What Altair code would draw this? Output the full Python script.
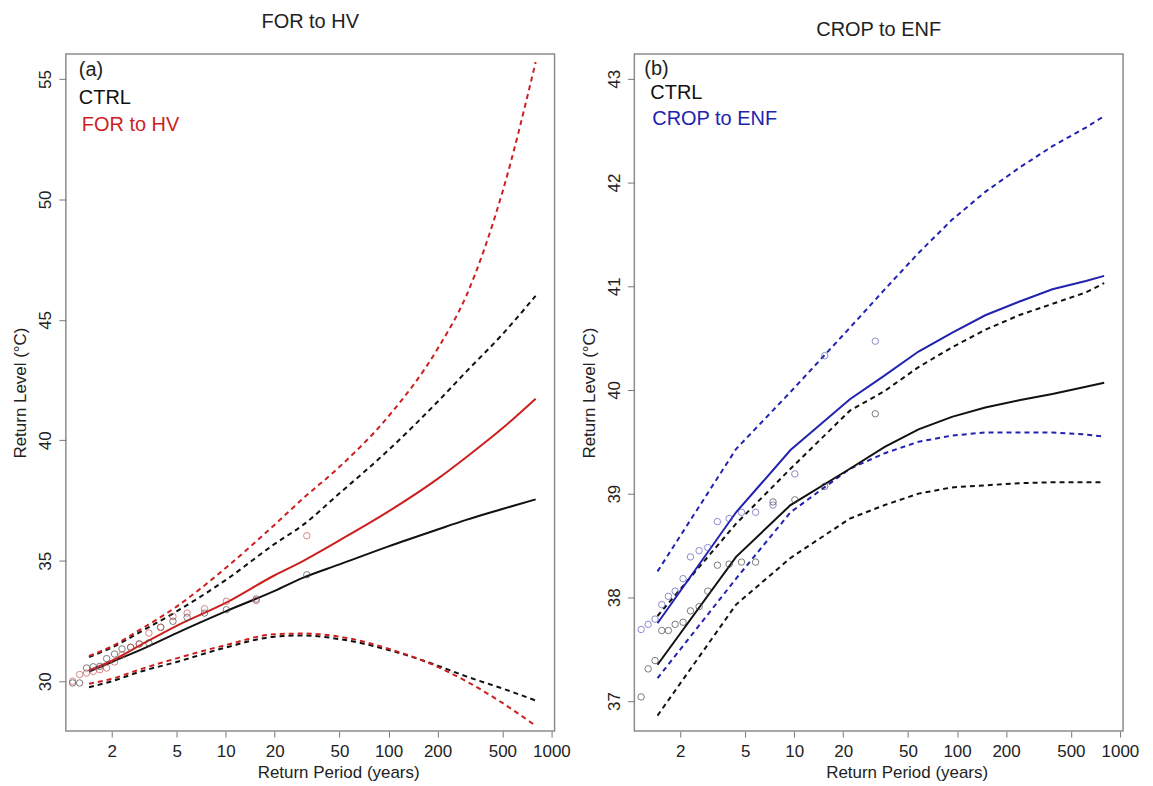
import altair as alt
import pandas as pd

# ---------------- Panel (a): FOR to HV ----------------
T_A = [1.45, 2, 3, 5, 10, 20, 30, 50, 100, 200, 300, 500, 800]
CTRL_A = [30.4, 30.8, 31.3, 32.0, 32.9, 33.75, 34.3, 34.85, 35.6, 36.3, 36.7, 37.15, 37.55]
CTRL_A_HI = [31.0, 31.4, 32.05, 32.9, 34.2, 35.7, 36.5, 37.8, 39.6, 41.6, 42.85, 44.4, 46.0]
CTRL_A_LO = [29.75, 30.0, 30.4, 30.8, 31.4, 31.85, 31.9, 31.75, 31.3, 30.65, 30.2, 29.7, 29.2]
HV = [30.45, 30.85, 31.5, 32.3, 33.25, 34.4, 35.0, 35.85, 37.05, 38.4, 39.3, 40.5, 41.73]
HV_HI = [31.05, 31.45, 32.15, 33.1, 34.7, 36.5, 37.6, 38.9, 41.0, 43.8, 46.0, 50.3, 55.7]
HV_LO = [29.9, 30.1, 30.5, 30.95, 31.5, 31.95, 31.98, 31.85, 31.35, 30.6, 30.0, 29.1, 28.15]

# empirical return periods of the plotted points (shared by both panels)
PTS_T = [1.15, 1.27, 1.40, 1.54, 1.69, 1.86, 2.08, 2.31, 2.61, 2.95, 3.38, 3.99,
         4.75, 5.8, 7.42, 10.1, 15.4, 31.5]
CTRL_A_PTS = [29.93, 29.93, 30.55, 30.6, 30.62, 30.94, 31.13, 31.34, 31.41, 31.55, 31.59,
              32.24, 32.49, 32.65, 32.83, 32.97, 33.41, 34.42]
HV_PTS = [30.0, 30.28, 30.34, 30.41, 30.48, 30.55, 30.8, 31.1, 31.41, 31.55, 32.0, 32.24,
          32.69, 32.83, 33.01, 33.32, 33.35, 36.04]

# ---------------- Panel (b): CROP to ENF ----------------
T_B = [1.45, 4.4, 9.5, 22, 36, 58, 93, 149, 240, 385, 618, 800]
CTRL_B = [37.35, 38.39, 38.89, 39.24, 39.45, 39.62, 39.74, 39.83, 39.90, 39.96, 40.03, 40.07]
CTRL_B_HI = [37.82, 38.71, 39.24, 39.8, 39.99, 40.22, 40.41, 40.58, 40.72, 40.83, 40.94, 41.03]
CTRL_B_LO = [36.86, 37.93, 38.38, 38.76, 38.89, 39.0, 39.06, 39.08, 39.10, 39.11, 39.11, 39.11]
ENF = [37.75, 38.82, 39.42, 39.91, 40.14, 40.37, 40.55, 40.72, 40.85, 40.97, 41.05, 41.10]
ENF_HI = [38.25, 39.43, 39.98, 40.6, 40.97, 41.32, 41.64, 41.91, 42.14, 42.35, 42.53, 42.64]
ENF_LO = [37.22, 38.18, 38.82, 39.24, 39.39, 39.50, 39.56, 39.59, 39.59, 39.59, 39.57, 39.55]
CTRL_B_PTS = [37.04, 37.31, 37.39, 37.68, 37.68, 37.74, 37.76, 37.87, 37.91, 38.06, 38.31,
              38.32, 38.34, 38.34, 38.92, 38.94, 39.07, 39.77]
ENF_PTS = [37.69, 37.74, 37.79, 37.93, 38.01, 38.06, 38.18, 38.39, 38.45, 38.48, 38.73,
           38.76, 38.82, 38.82, 38.89, 39.19, 40.33, 40.47]

X_TICKS = [2, 5, 10, 20, 50, 100, 200, 500, 1000]
Y_TICKS_A = [30, 35, 40, 45, 50, 55]
Y_TICKS_B = [37, 38, 39, 40, 41, 42, 43]

FONT = "Liberation Sans"
TXT = "#222222"
BLACK = "#111111"
W, H = 490, 679


def panel(T, est, hi, lo, est2, hi2, lo2, p1, p2, name2, col2, ptcol2,
          ydom, yticks, title, toff, tag, tagpos, labpos, interp):
    rows = []
    for model, col, series in (("CTRL", BLACK, (est, hi, lo)),
                               (name2, col2, (est2, hi2, lo2))):
        for kind, vals in zip(("est", "hi", "lo"), series):
            for t, v in zip(T, vals):
                rows.append({"T": t, "v": v, "col": col,
                             "kind": "est" if kind == "est" else "ci",
                             "grp": model + kind})
    lines_df = pd.DataFrame(rows)
    prow = []
    for col, vals in (("#444444", p1), (ptcol2, p2)):
        for t, v in zip(PTS_T, vals):
            prow.append({"T": t, "v": v, "col": col})
    pts_df = pd.DataFrame(prow)

    xenc = alt.X("T:Q", scale=alt.Scale(type="log", domain=[1.045, 1045], nice=False),
                 axis=alt.Axis(values=X_TICKS, format="d", title="Return Period (years)",
                               grid=False, domain=False, tickSize=6, tickColor="#777777",
                               labelFontSize=17, titleFontSize=17, labelPadding=6,
                               titlePadding=6, titleFontWeight="normal", labelFont=FONT,
                               titleFont=FONT, labelColor=TXT, titleColor=TXT,
                               titleX=W / 2 + 28, titleAlign="center",
                               labelOverlap=False, labelFlush=False))
    yenc = alt.Y("v:Q", scale=alt.Scale(domain=ydom, nice=False, zero=False),
                 axis=alt.Axis(values=yticks, format="d", title="Return Level (°C)",
                               grid=False, domain=False, tickSize=7, tickColor="#777777",
                               labelAngle=270, labelAlign="center", labelBaseline="bottom",
                               labelFontSize=17, titleFontSize=17, labelPadding=4,
                               titlePadding=7, titleFontWeight="normal", labelFont=FONT,
                               titleFont=FONT, labelColor=TXT, titleColor=TXT))

    solid = alt.Chart(lines_df).transform_filter(alt.datum.kind == "est").mark_line(
        strokeWidth=2, clip=True, interpolate=interp).encode(
        x=xenc, y=yenc, color=alt.Color("col:N", scale=None), detail="grp:N")
    dashed = alt.Chart(lines_df).transform_filter(alt.datum.kind == "ci").mark_line(
        strokeWidth=2, clip=True, strokeDash=[5, 4], interpolate=interp).encode(
        x="T:Q", y="v:Q", color=alt.Color("col:N", scale=None), detail="grp:N")
    pts = alt.Chart(pts_df).mark_point(shape="circle", filled=False, size=42,
                                       strokeWidth=1).encode(
        x="T:Q", y="v:Q", color=alt.Color("col:N", scale=None))
    texts = []
    for (txt, col), (px, py) in zip(((tag, TXT), ("CTRL", BLACK), (name2, col2)),
                                    [tagpos] + labpos):
        texts.append(alt.Chart(pd.DataFrame({"t": [txt]})).mark_text(
            align="left", baseline="middle", fontSize=20, font=FONT, color=col
        ).encode(text="t:N", x=alt.value(px), y=alt.value(py)))

    return alt.layer(dashed, solid, pts, *texts).properties(
        width=W, height=H,
        title=alt.TitleParams(title, fontSize=20, fontWeight="normal", font=FONT,
                              color=TXT, offset=toff, anchor="middle"),
    )


pa = panel(T_A, CTRL_A, CTRL_A_HI, CTRL_A_LO, HV, HV_HI, HV_LO, CTRL_A_PTS, HV_PTS,
           "FOR to HV", "#cc1f1f", "#c85050", [27.93, 56.04], Y_TICKS_A, "FOR to HV",
           22, "(a)", (13, 16), [(13, 44), (16, 71)], "monotone")
pb = panel(T_B, CTRL_B, CTRL_B_HI, CTRL_B_LO, ENF, ENF_HI, ENF_LO, CTRL_B_PTS, ENF_PTS,
           "CROP to ENF", "#2222b0", "#5a5ab8", [36.71, 43.24], Y_TICKS_B, "CROP to ENF",
           14, "(b)", (10, 15), [(16, 39), (18, 65)], "linear")

chart = alt.hconcat(pa, pb, spacing=80, bounds="flush").properties(
    padding={"left": 3, "top": 2, "right": 5, "bottom": 5}
).configure_view(stroke="#8c8c8c", strokeWidth=1.5)

chart.save("out.html", embed_options={"renderer": "svg", "actions": False})
